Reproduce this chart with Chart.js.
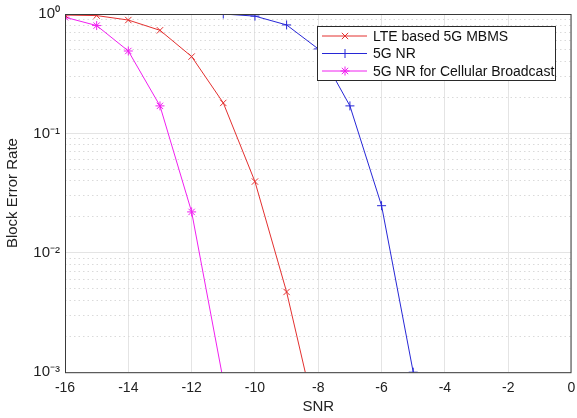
<!DOCTYPE html>
<html>
<head>
<meta charset="utf-8">
<script src="https://cdn.jsdelivr.net/npm/chart.js@4"></script>
<style>
  html, body { margin: 0; padding: 0; background: #fff; }
  #wrap { width: 577px; height: 418px; }
</style>
</head>
<body>
<div id="wrap"><canvas id="c"></canvas></div>
<script>
// data
const lteSnr = [-16, -15, -14, -13, -12, -11, -10, -9, -8];
const lteBler = [0.98, 0.97, 0.89, 0.73, 0.44, 0.18, 0.0395, 0.0047, 0.00034];

const nrSnr = [-11, -10, -9, -8, -7, -6, -5];
const nrBler = [1.0, 0.96, 0.81, 0.51, 0.17, 0.0248, 0.001];

const cbSnr = [-16, -15, -14, -13, -12, -11];
const cbBler = [0.94, 0.80, 0.49, 0.17, 0.022, 0.00085];

const seriesNames = ["LTE based 5G MBMS", "5G NR", "5G NR for Cellular Broadcast"];
const xTicks = [-16, -14, -12, -10, -8, -6, -4, -2, 0];
const yMajor = [0.001, 0.01, 0.1, 1];
const yLabels = ["10\u207B\u00B3", "10\u207B\u00B2", "10\u207B\u00B9", "10\u2070"];

const colors = ["#e3302f", "#2727d6", "#f020f0"];
const markers = ["crossRot", "cross", "star"];

function pairs(xs, ys) {
  return xs.map((x, i) => ({ x: x, y: ys[i] }));
}

// minor decade values 2..9 for the dotted grid
const yMinor = [];
[0.001, 0.01, 0.1].forEach(d => {
  for (let k = 2; k <= 9; k++) yMinor.push(+(d * k).toPrecision(3));
});

const font = "'Liberation Sans', Arial, sans-serif";

// box around the plot + MATLAB-like legend
const boxAndLegend = {
  id: "boxAndLegend",
  afterDatasetsDraw(chart) {
    const ctx = chart.ctx;
    const a = chart.chartArea;
    ctx.save();
    ctx.strokeStyle = "#3a3a3a";
    ctx.lineWidth = 1;
    ctx.strokeRect(a.left + 0.5, a.top + 0.5, a.right - a.left - 1, a.bottom - a.top);

    const x0 = a.left + 252, y0 = a.top + 12, w = 238, h = 54;
    ctx.fillStyle = "#fff";
    ctx.fillRect(x0, y0, w, h);
    ctx.strokeStyle = "#2a2a2a";
    ctx.strokeRect(x0 + 0.5, y0 + 0.5, w, h);
    ctx.font = "14px " + font;
    ctx.textBaseline = "middle";
    seriesNames.forEach((name, i) => {
      const yy = y0 + 10 + i * 17.5;
      ctx.strokeStyle = colors[i];
      ctx.lineWidth = 1;
      ctx.beginPath();
      ctx.moveTo(x0 + 5, yy);
      ctx.lineTo(x0 + 50, yy);
      ctx.stroke();
      Chart.helpers.drawPoint(ctx, {
        pointStyle: markers[i], radius: 4.5, borderWidth: 1, rotation: 0
      }, x0 + 28, yy);
      ctx.fillStyle = "#111";
      ctx.fillText(name, x0 + 56, yy + 1);
    });
    ctx.restore();
  }
};

const datasets = [
  pairs(lteSnr, lteBler),
  pairs(nrSnr, nrBler),
  pairs(cbSnr, cbBler)
].map((d, i) => ({
  label: seriesNames[i],
  data: d,
  borderColor: colors[i],
  backgroundColor: colors[i],
  borderWidth: 1,
  pointStyle: markers[i],
  pointRadius: 4.5,
  pointBorderWidth: 1,
  tension: 0
}));

new Chart(document.getElementById("c"), {
  type: "line",
  data: { datasets: datasets },
  options: {
    responsive: true,
    maintainAspectRatio: false,
    animation: false,
    layout: { padding: { top: 11, right: 0, left: 0, bottom: 2 } },
    plugins: { legend: { display: false }, tooltip: { enabled: false } },
    scales: {
      x: {
        type: "linear",
        min: -16, max: 0,
        afterBuildTicks: s => { s.ticks = xTicks.map(v => ({ value: v })); },
        afterFit: s => { s.paddingRight = 5; },
        grid: { color: "#e4e4e4", drawTicks: false },
        border: { display: false },
        ticks: { color: "#222", font: { family: font, size: 14 }, padding: 8 },
        title: { display: true, text: "SNR", color: "#222", font: { family: font, size: 15 }, padding: { top: -7, bottom: 0 } }
      },
      y: {
        type: "logarithmic",
        min: 0.001, max: 1,
        afterBuildTicks: s => { s.ticks = yMajor.map(v => ({ value: v })); },
        afterFit: s => { s.width = 65; },
        grid: { color: "#e4e4e4", drawTicks: false },
        border: { display: false },
        ticks: {
          color: "#222", font: { family: font, size: 15 }, padding: 5,
          callback: (v, i) => yLabels[i]
        },
        title: { display: true, text: "Block Error Rate", color: "#222", font: { family: font, size: 15 }, padding: { bottom: 4 } }
      },
      yMinor: {
        type: "logarithmic",
        position: "left",
        min: 0.001, max: 1,
        display: true,
        afterBuildTicks: s => { s.ticks = yMinor.map(v => ({ value: v })); },
        afterFit: s => { s.width = 0; },
        grid: { color: "#dadada", drawTicks: false },
        border: { display: false, dash: [1.5, 3] },
        ticks: { display: false }
      }
    }
  },
  plugins: [boxAndLegend]
});
</script>
</body>
</html>
